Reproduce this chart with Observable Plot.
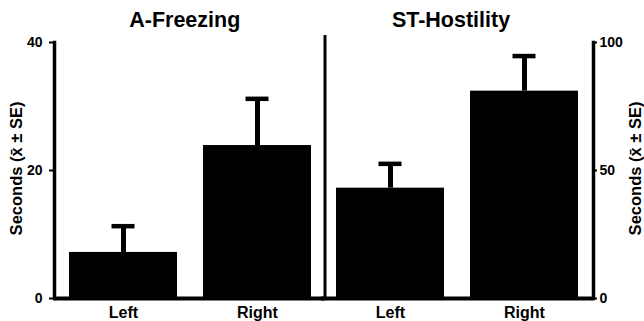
<!DOCTYPE html>
<html>
<head>
<meta charset="utf-8">
<script src="https://cdn.jsdelivr.net/npm/d3@7"></script>
<script src="https://cdn.jsdelivr.net/npm/@observablehq/plot@0.6"></script>
<style>
  body { margin: 0; background: white; }
  #c { position: relative; width: 644px; height: 321px; }
  #c svg { position: absolute; top: 0; left: 0; }
</style>
</head>
<body>
<div id="c"></div>
<script>
const categories = ["Left", "Right"];
const freezingMean = [7.2, 23.9];
const freezingSE = [4.1, 7.3];
const hostilityMean = [43.1, 81.0];
const hostilitySE = [9.5, 13.7];
const freezingTicks = [0, 20, 40];
const hostilityTicks = [0, 50, 100];
const yLabel = "Seconds (x\u0304 \u00b1 SE)";

const freezing = categories.map((c, i) => ({cat: c, mean: freezingMean[i], top: freezingMean[i] + freezingSE[i]}));
const hostility = categories.map((c, i) => ({cat: c, mean: hostilityMean[i], top: hostilityMean[i] + hostilitySE[i]}));

const W = 644, H = 321;
const font = {fontFamily: "'Liberation Sans', Arial, sans-serif", fontWeight: "bold", background: "transparent", color: "black", overflow: "visible"};
const xOpts = {domain: categories, paddingInner: 0.193, paddingOuter: 0.104, align: 0.5};

function panel(data, opts) {
  return Plot.plot({
    width: W, height: H,
    marginTop: 42, marginBottom: 23,
    marginLeft: opts.ml, marginRight: opts.mr,
    style: font,
    x: {...xOpts, range: opts.xrange},
    y: {domain: opts.ydomain},
    marks: [
      Plot.barY(data, {x: "cat", y: "mean", fill: "black"}),
      Plot.ruleX(data, {x: "cat", y1: "mean", y2: "top", strokeWidth: 5}),
      Plot.tickY(data, {x: "cat", y: "top", strokeWidth: 4.5, insetLeft: 42.5, insetRight: 42.5}),
      Plot.ruleY([0], {strokeWidth: 4}),
      ...opts.extra,
      Plot.axisX({tickSize: 0, tickPadding: 8, fontSize: 16, fontWeight: "bold", label: null}),
      Plot.axisY({anchor: opts.yanchor, ticks: opts.ticks, tickSize: opts.tickSize, tickPadding: opts.tickPadding, fontSize: 14, fontWeight: "bold", label: null, strokeWidth: 2}),
      Plot.text([opts.title], {frameAnchor: "top", dx: opts.titleDx, dy: -22.5, lineAnchor: "middle", fontSize: 21.5, fontWeight: "bold"}),
      Plot.text([yLabel], {frameAnchor: opts.yanchor, dx: opts.labelDx, dy: -2, rotate: -90, textAnchor: "middle", fontSize: 16.5, fontWeight: "bold", lineAnchor: "middle"})
    ]
  });
}

const left = panel(freezing, {
  ml: 54, mr: W - 324.5, xrange: [54, 326], ydomain: [0, 40],
  ticks: freezingTicks, yanchor: "left", tickSize: 5, tickPadding: 7,
  title: "A-Freezing", titleDx: -5, labelDx: -38,
  extra: [
    Plot.frame({anchor: "left", strokeWidth: 3.5}),
    Plot.frame({anchor: "right", strokeWidth: 3, insetTop: -6})
  ]
});

const right = panel(hostility, {
  ml: 321, mr: W - 593, xrange: [321, 593], ydomain: [0, 100],
  ticks: hostilityTicks, yanchor: "right", tickSize: 3, tickPadding: 3,
  title: "ST-Hostility", titleDx: -6.5, labelDx: 42,
  extra: [
    Plot.frame({anchor: "right", strokeWidth: 3.5})
  ]
});

document.getElementById("c").append(left, right);
</script>
</body>
</html>
